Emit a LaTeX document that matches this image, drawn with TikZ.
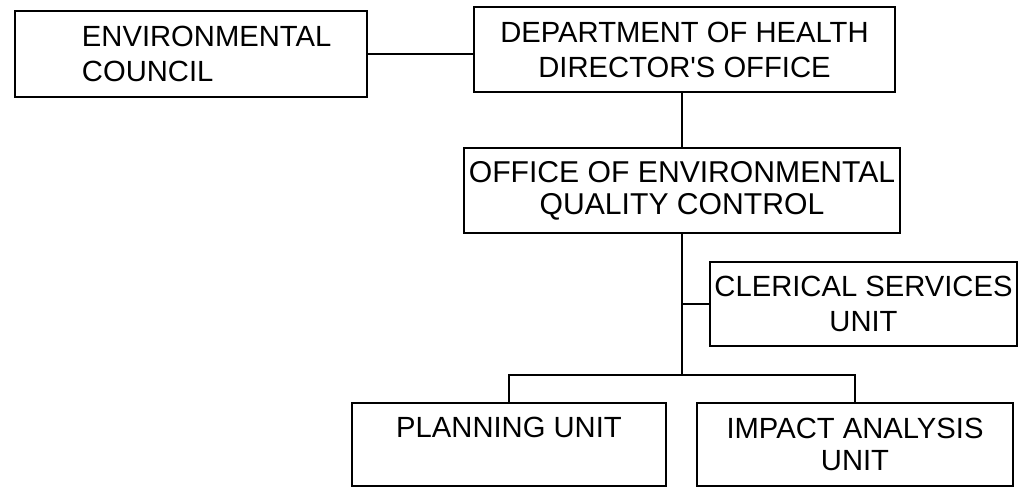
\documentclass[tikz,border=0pt]{standalone}
\usepackage{fontspec}
\setmainfont{Liberation Sans}
\usepackage{tikz}

\begin{document}
\begin{tikzpicture}
[x=0.75pt,y=-0.75pt,
  boxDecorate/.style={shape=rectangle,draw,line width=1.4pt,inner sep=0pt,align=center},%
  lineDecorate/.style={-,line width=1.4pt}]
\useasboundingbox (0,0) rectangle (1018,487);
%% boxes or units
\foreach \nodename/\x/\y/\w/\h/\fs/\ls/\txt in {
    dept/684.5/49.5/421/85/21.9/26.3/{DEPARTMENT OF HEALTH\\DIRECTOR\textquotesingle S OFFICE},
    office/682/190.5/436/85/22.6/24/{OFFICE OF ENVIRONMENTAL\\QUALITY CONTROL},
    clerical/863.5/304/307/84/21.9/26.3/{CLERICAL SERVICES\\UNIT},
    planning/509/444.5/314/83/21.9/26.3/{PLANNING UNIT\\\mbox{}},
    impact/855/444.5/316/83/21.9/24/{IMPACT ANALYSIS\\UNIT}} {
  \node (\nodename) at (\x,\y) [boxDecorate,minimum width=\w*0.75pt,minimum height=\h*0.75pt,
    font=\fontsize{\fs}{\ls}\selectfont] {\txt};
}
\node (council) at (191,54) [boxDecorate,align=left,text width=264pt,minimum height=64.5pt,
  font=\fontsize{21.9}{26.3}\selectfont]
  {\hspace*{50.25pt}ENVIRONMENTAL\\\hspace*{50.25pt}COUNCIL};
%% lines
\coordinate (hub) at (682,375);
\coordinate (barL) at (planning.north |- hub);
\coordinate (barR) at (impact.north |- hub);
\path
(council.east) edge[lineDecorate] (council.east -| dept.west)
(office.north |- dept.south) edge[lineDecorate] (office.north)
(office.south) edge[lineDecorate] (hub)
(hub |- clerical.west) edge[lineDecorate] (clerical.west);
\draw[lineDecorate] (planning.north) -- (barL) -- (barR) -- (impact.north);
\end{tikzpicture}
\end{document}
